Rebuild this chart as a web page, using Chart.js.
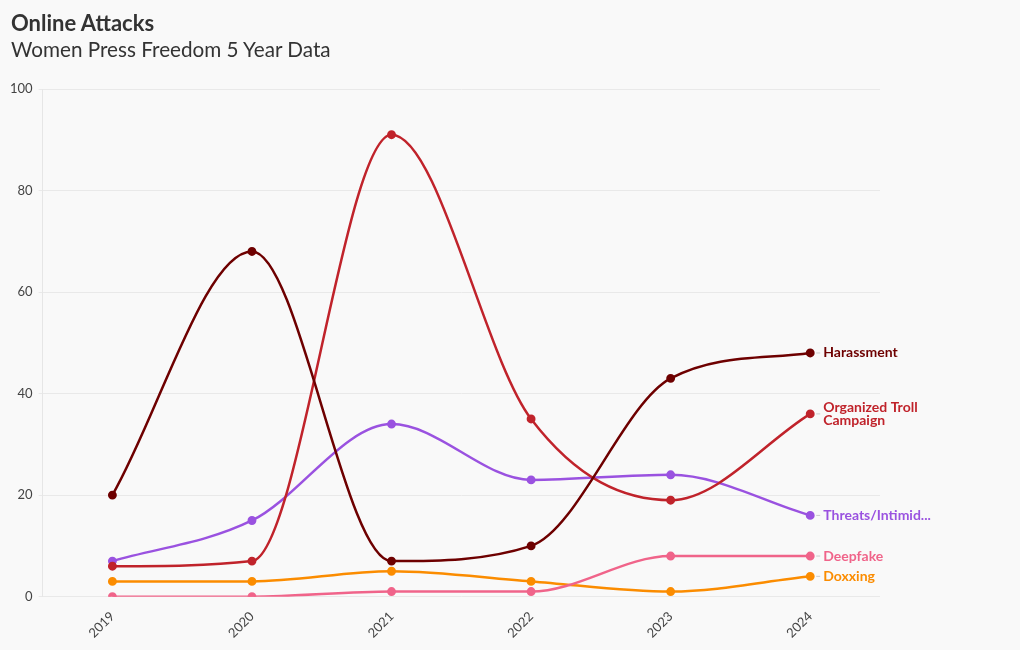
<!DOCTYPE html>
<html>
<head>
<meta charset="utf-8">
<script src="https://cdn.jsdelivr.net/npm/chart.js@4/dist/chart.umd.min.js"></script>
<style>
  html, body { margin:0; padding:0; background:#f9f9f9; }
  #wrap { position:relative; width:1020px; height:650px; }
  #title { position:absolute; left:11px; top:9px; font-family:Lato, "Noto Sans", sans-serif; font-weight:700; font-size:22px; color:#333; }
  #subtitle { position:absolute; left:11px; top:37px; font-family:Lato, "Noto Sans", sans-serif; font-size:20.7px; color:#333; }
  canvas { position:absolute; left:0; top:0; }
</style>
</head>
<body>
<div id="wrap">
  <canvas id="c" width="1020" height="650"></canvas>
  <div id="title">Online Attacks</div>
  <div id="subtitle">Women Press Freedom 5 Year Data</div>
</div>
<script>
const years = ["2019", "2020", "2021", "2022", "2023", "2024"];
const yTicks = [0, 20, 40, 60, 80, 100];
const harassment = [20, 68, 7, 10, 43, 48];
const trollCampaign = [6, 7, 91, 35, 19, 36];
const threats = [7, 15, 34, 23, 24, 16];
const deepfake = [0, 0, 1, 1, 8, 8];
const doxxing = [3, 3, 5, 3, 1, 4];
const seriesNames = ["Harassment", "Organized Troll Campaign", "Threats/Intimidation", "Deepfake", "Doxxing"];
const endLabels = [["Harassment"], ["Organized Troll", "Campaign"], ["Threats/Intimid..."], ["Deepfake"], ["Doxxing"]];
const colors = ["#6e0000", "#c0232b", "#9a52e0", "#f0648a", "#fb8c00"];
const seriesData = [harassment, trollCampaign, threats, deepfake, doxxing];

const FONT = 'Lato, "Noto Sans", sans-serif';

const endLabelPlugin = {
  id: 'endLabels',
  afterDatasetsDraw(chart) {
    const ctx = chart.ctx;
    ctx.save();
    chart.data.datasets.forEach((ds, i) => {
      const meta = chart.getDatasetMeta(i);
      const pt = meta.data[meta.data.length - 1];
      const x = pt.x, y = pt.y;
      ctx.strokeStyle = '#cccccc';
      ctx.lineWidth = 1;
      ctx.beginPath();
      ctx.moveTo(x + 6, y);
      ctx.lineTo(x + 10, y);
      ctx.stroke();
      ctx.fillStyle = ds.borderColor;
      ctx.font = 'bold 14px ' + FONT;
      ctx.textBaseline = 'middle';
      ctx.textAlign = 'left';
      const lines = endLabels[i];
      const lh = 13;
      lines.forEach((l, k) => {
        ctx.fillText(l, x + 13, y + (k - (lines.length - 1) / 2) * lh);
      });
    });
    ctx.restore();
  }
};

new Chart(document.getElementById('c'), {
  type: 'line',
  data: {
    labels: years,
    datasets: seriesData.map((d, i) => ({
      label: seriesNames[i],
      data: d,
      borderColor: colors[i],
      backgroundColor: colors[i],
      borderWidth: 2.5,
      pointRadius: 3.2,
      pointHoverRadius: 4,
      cubicInterpolationMode: 'monotone',
      fill: false
    }))
  },
  options: {
    responsive: false,
    animation: false,
    layout: { padding: { top: 89, left: 4, right: 140, bottom: 5 } },
    plugins: { legend: { display: false }, tooltip: { enabled: false } },
    scales: {
      x: {
        offset: true,
        grid: { display: false },
        border: { display: false },
        ticks: { color: '#444', font: { family: FONT, size: 13 }, maxRotation: 45, minRotation: 45, padding: 4 }
      },
      y: {
        min: 0, max: 100,
        afterBuildTicks(axis) { axis.ticks = yTicks.map(v => ({ value: v })); },
        grid: { color: '#e9e9e9', tickLength: 4 },
        border: { color: '#e6e6e6' },
        ticks: { color: '#444', font: { family: FONT, size: 13 }, padding: 6 }
      }
    }
  },
  plugins: [endLabelPlugin]
});
</script>
</body>
</html>
